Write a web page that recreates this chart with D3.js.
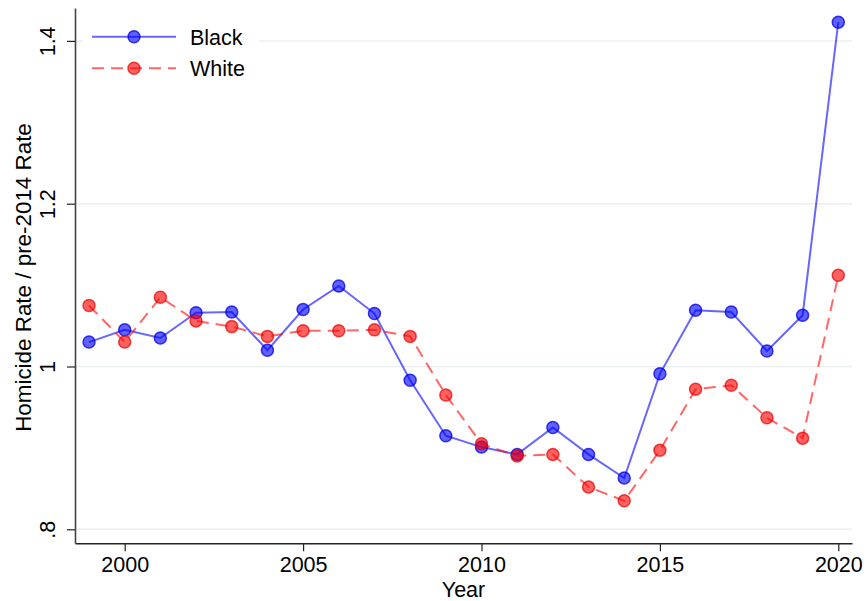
<!DOCTYPE html>
<html>
<head>
<meta charset="utf-8">
<script src="https://cdn.jsdelivr.net/npm/d3@7"></script>
<style>
  body { margin: 0; background: #fff; }
  svg { display: block; font-family: Arial, "Liberation Sans", sans-serif; }
</style>
</head>
<body>
<svg id="chart" width="867" height="601"></svg>
<script>
// Homicide rate relative to pre-2014 average, by race
const years = [1999, 2000, 2001, 2002, 2003, 2004, 2005, 2006, 2007, 2008, 2009,
               2010, 2011, 2012, 2013, 2014, 2015, 2016, 2017, 2018, 2019, 2020];
const blackRatio = [1.030, 1.045, 1.035, 1.066, 1.067, 1.020, 1.070, 1.099, 1.065, 0.983, 0.915,
                    0.901, 0.892, 0.925, 0.892, 0.863, 0.991, 1.069, 1.067, 1.019, 1.063, 1.423];
const whiteRatio = [1.075, 1.030, 1.085, 1.056, 1.049, 1.037, 1.044, 1.044, 1.045, 1.037, 0.965,
                    0.905, 0.890, 0.892, 0.852, 0.835, 0.897, 0.972, 0.977, 0.937, 0.912, 1.112];
const xTicks = [2000, 2005, 2010, 2015, 2020];
const yTicks = [0.8, 1.0, 1.2, 1.4];
const yTickLabels = [".8", "1", "1.2", "1.4"];
const seriesNames = ["Black", "White"];

const svg = d3.select("#chart");
const plotLeft = 75, plotRight = 852, plotTop = 8, plotBottom = 543.3;

const x = d3.scaleLinear().domain([1998.607, 2020.384]).range([plotLeft, plotRight]);
const y = d3.scaleLinear().domain([0.7828, 1.4404]).range([plotBottom, plotTop]);

// gridlines
svg.append("g").selectAll("line").data(yTicks).join("line")
  .attr("x1", plotLeft).attr("x2", plotRight)
  .attr("y1", d => y(d)).attr("y2", d => y(d))
  .attr("stroke", "#eaf0f2").attr("stroke-width", 1.5);

// axes
const xAxis = svg.append("g").attr("transform", `translate(0,${plotBottom})`)
  .call(d3.axisBottom(x).tickValues(xTicks).tickFormat(d3.format("d")).tickSize(8).tickSizeOuter(0).tickPadding(5));
xAxis.select(".domain").attr("stroke", "#222").attr("stroke-width", 1.6);
xAxis.selectAll(".tick line").attr("stroke", "#222").attr("stroke-width", 1.2);
xAxis.selectAll(".tick text").attr("font-size", 21.5).attr("fill", "#000")
  .attr("font-family", "Arial, 'Liberation Sans', sans-serif");

const yAxis = svg.append("g").attr("transform", `translate(${plotLeft},0)`)
  .call(d3.axisLeft(y).tickValues(yTicks).tickFormat((d, i) => yTickLabels[i]).tickSize(8).tickSizeOuter(0).tickPadding(0));
yAxis.select(".domain").attr("stroke", "#444").attr("stroke-width", 1.6);
yAxis.selectAll(".tick line").attr("stroke", "#222").attr("stroke-width", 1.2);
yAxis.selectAll(".tick text")
  .attr("font-size", 21.5).attr("fill", "#000")
  .attr("font-family", "Arial, 'Liberation Sans', sans-serif")
  .attr("x", null).attr("dy", null)
  .attr("text-anchor", "middle")
  .attr("transform", "translate(-20,0) rotate(-90)");

// axis titles
svg.append("text").attr("x", (plotLeft + plotRight) / 2).attr("y", 597)
  .attr("text-anchor", "middle").attr("font-size", 21.5).text("Year");
svg.append("text").attr("transform", "translate(31,277.5) rotate(-90)")
  .attr("text-anchor", "middle").attr("font-size", 22.4).text("Homicide Rate / pre-2014 Rate");

// series
const styles = [
  { line: "rgba(0,0,255,0.6)", fill: "rgba(0,0,255,0.62)", stroke: "rgba(0,0,230,0.75)", dash: null },
  { line: "rgba(255,0,0,0.6)", fill: "rgba(255,0,0,0.62)", stroke: "rgba(230,0,0,0.7)", dash: "12,7" }
];
const seriesData = [blackRatio, whiteRatio];
const line = d3.line().x((d, i) => x(years[i])).y(d => y(d));

seriesData.forEach((vals, s) => {
  const st = styles[s];
  svg.append("path").datum(vals).attr("d", line)
    .attr("fill", "none").attr("stroke", st.line).attr("stroke-width", 2)
    .attr("stroke-dasharray", st.dash);
  svg.append("g").selectAll("circle").data(vals).join("circle")
    .attr("cx", (d, i) => x(years[i])).attr("cy", d => y(d)).attr("r", 6)
    .attr("fill", st.fill).attr("stroke", st.stroke).attr("stroke-width", 1.5);
});

// legend
const lg = svg.append("g");
lg.append("rect").attr("x", 83).attr("y", 18).attr("width", 176).attr("height", 68).attr("fill", "#fff");
seriesNames.forEach((name, s) => {
  const st = styles[s];
  const ly = 36.7 + s * 31.6;
  lg.append("line").attr("x1", 92).attr("x2", 176).attr("y1", ly).attr("y2", ly)
    .attr("stroke", st.line).attr("stroke-width", 2).attr("stroke-dasharray", st.dash);
  lg.append("circle").attr("cx", 134).attr("cy", ly).attr("r", 6)
    .attr("fill", st.fill).attr("stroke", st.stroke).attr("stroke-width", 1.5);
  lg.append("text").attr("x", 190).attr("y", ly + 8).attr("font-size", 21.5).text(name);
});
</script>
</body>
</html>
